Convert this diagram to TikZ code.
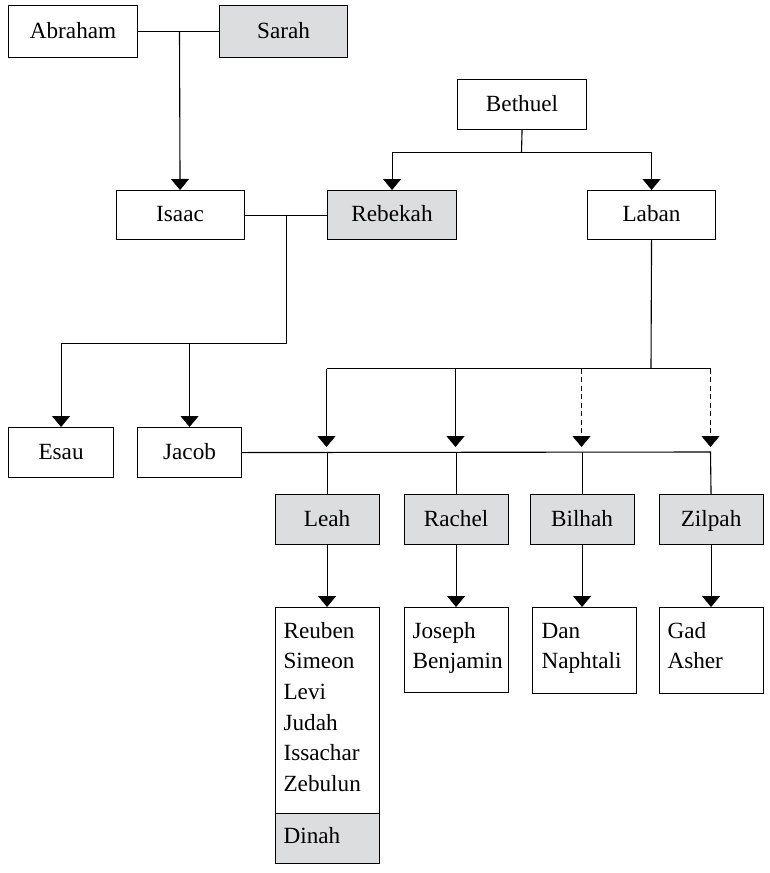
\documentclass[tikz,border=0pt]{standalone}
\usepackage{fontspec}
\setmainfont{Liberation Serif}
\usetikzlibrary{arrows.meta}
\definecolor{famgray}{RGB}{220,221,223}
\begin{document}
\begin{tikzpicture}[x=1pt,y=-1pt,
  line width=1.1pt,
  box/.style={draw, rectangle, anchor=north west, inner sep=0pt, text height=13pt, text depth=0pt,
    font=\fontsize{23.2}{30.7}\selectfont},
  wbox/.style={box, fill=white},
  gbox/.style={box, fill=famgray},
  lbl/.style={inner sep=0pt, anchor=base west, font=\fontsize{23.2}{30.7}\selectfont},
  arr/.style={-{Triangle[width=18pt,length=11pt]}},
  dsh/.style={dash pattern=on 5pt off 3.5pt},
]
\useasboundingbox[fill=white] (0,0) rectangle (769,873);

% boxes
\node[wbox, minimum width=129, minimum height=52] (abraham) at (8,5) {Abraham};
\node[gbox, minimum width=128, minimum height=52] (sarah) at (219,5) {Sarah};
\node[wbox, minimum width=129, minimum height=50] (bethuel) at (457,79) {Bethuel};
\node[wbox, minimum width=128, minimum height=49] (isaac) at (115.5,190) {Isaac};
\node[gbox, minimum width=129, minimum height=49] (rebekah) at (327,190) {Rebekah};
\node[wbox, minimum width=128, minimum height=49] (laban) at (587,190) {Laban};
\node[wbox, minimum width=105, minimum height=50] (esau) at (8,427) {Esau};
\node[wbox, minimum width=104, minimum height=50] (jacob) at (137,427) {Jacob};
\node[gbox, minimum width=104, minimum height=50] (leah) at (274.5,494) {Leah};
\node[gbox, minimum width=104, minimum height=50] (rachel) at (403.5,494) {Rachel};
\node[gbox, minimum width=104, minimum height=50] (bilhah) at (529.5,494) {Bilhah};
\node[gbox, minimum width=104, minimum height=50] (zilpah) at (658.5,494) {Zilpah};

\node[wbox, minimum width=104, minimum height=256] (leahkids) at (274.5,607) {};
\node[gbox, minimum width=104, minimum height=50] (dinahbox) at (274.5,813) {};
\node[wbox, minimum width=104, minimum height=85] (rachelkids) at (403.5,607) {};
\node[wbox, minimum width=104, minimum height=86] (bilhahkids) at (532,607) {};
\node[wbox, minimum width=104, minimum height=86] (zilpahkids) at (658.5,607) {};

\node[lbl] (leahtxt) at (283,638) {\begin{tabular}[t]{@{}l@{}}Reuben\\Simeon\\Levi\\Judah\\Issachar\\Zebulun\end{tabular}};
\node[lbl] (dinahtxt) at (283,843) {Dinah};
\node[lbl] (racheltxt) at (412,638) {\begin{tabular}[t]{@{}l@{}}Joseph\\Benjamin\end{tabular}};
\node[lbl] (bilhahtxt) at (541,638) {\begin{tabular}[t]{@{}l@{}}Dan\\Naphtali\end{tabular}};
\node[lbl] (zilpahtxt) at (667,638) {\begin{tabular}[t]{@{}l@{}}Gad\\Asher\end{tabular}};

% Abraham + Sarah -> Isaac
\coordinate (as) at (179.5,31);
\draw (abraham.east) -- (sarah.west);
\draw[arr] (as) -- (isaac.north);

% Bethuel -> Rebekah, Laban
\coordinate (bj) at (521.5,152.5);
\draw (bethuel.south) -- (bj);
\draw[arr] (bj) -| (rebekah.north);
\draw[arr] (bj) -| (laban.north);

% Isaac + Rebekah -> Esau, Jacob
\coordinate (ir) at (286.5,214.5);
\coordinate (irb) at (286.5,343.5);
\draw (isaac.east) -- (rebekah.west);
\draw (ir) -- (irb);
\draw[arr] (irb) -| (esau.north);
\draw[arr] (irb) -| (jacob.north);

% Laban -> daughters / handmaids
\coordinate (lb) at (651,368.5);
\coordinate (h1) at (326.5,368.5);
\coordinate (h2) at (455.5,368.5);
\coordinate (h3) at (581.5,368.5);
\coordinate (h4) at (710.5,368.5);
\coordinate (t1) at (326.5,447);
\coordinate (t2) at (455.5,447);
\coordinate (t3) at (581.5,447);
\coordinate (t4) at (710.5,447);
\draw (laban.south) -- (lb);
\draw (h1) -- (h4);
\draw[arr] (h1) -- (t1);
\draw[arr] (h2) -- (t2);
\draw[arr, dsh] (h3) -- (t3);
\draw[arr, dsh] (h4) -- (t4);

% Jacob's marriages
\coordinate (jz) at (710.5,452);
\draw (jacob.east) -- (jz) -- (zilpah.north);
\draw (leah.north) -- (leah.north |- jz);
\draw (rachel.north) -- (rachel.north |- jz);
\draw (bilhah.north) -- (bilhah.north |- jz);

% children
\draw[arr] (leah.south) -- (leahkids.north);
\draw[arr] (rachel.south) -- (rachelkids.north);
\draw[arr] (bilhah.south) -- (bilhah.south |- bilhahkids.north);
\draw[arr] (zilpah.south) -- (zilpahkids.north);
\end{tikzpicture}
\end{document}
